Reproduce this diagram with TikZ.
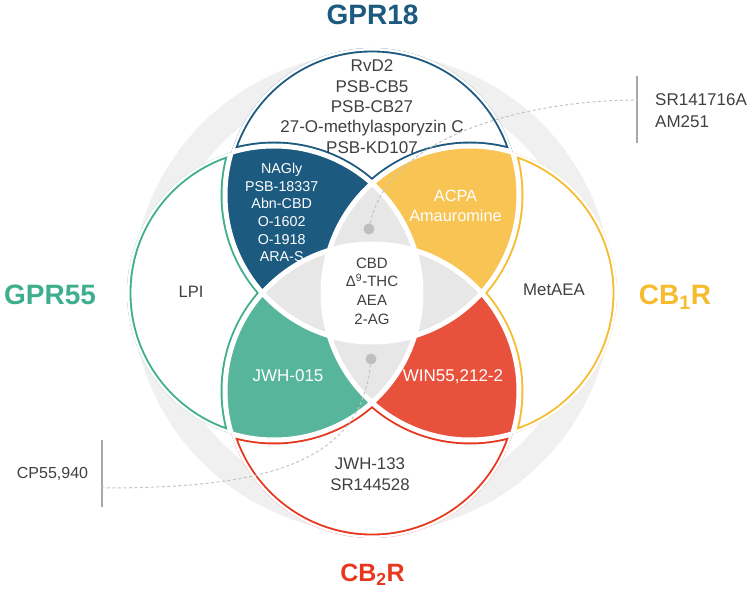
\documentclass[tikz,border=0pt]{standalone}
\usepackage{fontspec}
\setmainfont{Liberation Sans}
\definecolor{blueC}{HTML}{1C5A7F}
\definecolor{yellowF}{HTML}{F8C453}
\definecolor{yellowO}{HTML}{F6BB2E}
\definecolor{tealF}{HTML}{56B59B}
\definecolor{tealO}{HTML}{3FAE8D}
\definecolor{redF}{HTML}{E8523D}
\definecolor{redO}{HTML}{E6381F}
\definecolor{greyF}{HTML}{E7E7E7}
\definecolor{ringC}{HTML}{F0F0F0}
\definecolor{txtC}{HTML}{404040}
\definecolor{dotC}{HTML}{BEBEBE}
\definecolor{dashC}{HTML}{C4C4C4}
\definecolor{vlineC}{HTML}{A8A8A8}
\def\R{147pt}
\begin{document}
\begin{tikzpicture}[x=1pt,y=1pt,
  txt/.style={text=txtC, align=center, inner sep=0pt, text depth=0pt, font=\fontsize{17}{20.3}\selectfont},
  wtxt/.style={text=white, align=center, inner sep=0pt, text depth=0pt},
  lbl/.style={inner sep=0pt, text depth=0pt, font=\fontsize{28}{30}\selectfont\bfseries},
  dotn/.style={circle, fill=dotC, inner sep=0pt, minimum size=11pt},
  vline/.style={draw=vlineC, line width=2pt},
  dashln/.style={draw=dashC, line width=1pt, dash pattern=on 3pt off 2.5pt}]
\useasboundingbox (-372,-298) rectangle (378,293);

\coordinate (cT) at (0,98);
\coordinate (cL) at (-98,0);
\coordinate (cR) at (98,0);
\coordinate (cB) at (0,-98);

% background ring
\fill[ringC, even odd rule] (0,0) circle[radius=240pt] (0,0) circle[radius=212pt];

\begin{scope}
  \clip (cT) circle[radius=\R] (cL) circle[radius=\R] (cR) circle[radius=\R] (cB) circle[radius=\R];
  \fill[white] (-300,-300) rectangle (300,300);
  % two-circle lenses
  \begin{scope}\clip (cT) circle[radius=\R]; \clip (cL) circle[radius=\R]; \fill[blueC] (-300,-300) rectangle (300,300);\end{scope}
  \begin{scope}\clip (cT) circle[radius=\R]; \clip (cR) circle[radius=\R]; \fill[yellowF] (-300,-300) rectangle (300,300);\end{scope}
  \begin{scope}\clip (cL) circle[radius=\R]; \clip (cB) circle[radius=\R]; \fill[tealF] (-300,-300) rectangle (300,300);\end{scope}
  \begin{scope}\clip (cR) circle[radius=\R]; \clip (cB) circle[radius=\R]; \fill[redF] (-300,-300) rectangle (300,300);\end{scope}
  % three-circle regions
  \begin{scope}\clip (cT) circle[radius=\R]; \clip (cL) circle[radius=\R]; \clip (cR) circle[radius=\R]; \fill[greyF] (-300,-300) rectangle (300,300);\end{scope}
  \begin{scope}\clip (cT) circle[radius=\R]; \clip (cL) circle[radius=\R]; \clip (cB) circle[radius=\R]; \fill[greyF] (-300,-300) rectangle (300,300);\end{scope}
  \begin{scope}\clip (cT) circle[radius=\R]; \clip (cR) circle[radius=\R]; \clip (cB) circle[radius=\R]; \fill[greyF] (-300,-300) rectangle (300,300);\end{scope}
  \begin{scope}\clip (cL) circle[radius=\R]; \clip (cR) circle[radius=\R]; \clip (cB) circle[radius=\R]; \fill[greyF] (-300,-300) rectangle (300,300);\end{scope}
  % centre
  \begin{scope}\clip (cT) circle[radius=\R]; \clip (cL) circle[radius=\R]; \clip (cR) circle[radius=\R]; \clip (cB) circle[radius=\R]; \fill[white] (-300,-300) rectangle (300,300);\end{scope}
  % outlines of exclusive regions
  \begin{scope}[even odd rule]
    \clip (cT) circle[radius=\R];
    \clip (-400,-400) rectangle (400,400) (cL) circle[radius=\R];
    \clip (-400,-400) rectangle (400,400) (cR) circle[radius=\R];
    \draw[blueC, line width=8.8pt] (cT) circle[radius=\R] (cL) circle[radius=\R] (cR) circle[radius=\R];
  \end{scope}
  \begin{scope}[even odd rule]
    \clip (cL) circle[radius=\R];
    \clip (-400,-400) rectangle (400,400) (cT) circle[radius=\R];
    \clip (-400,-400) rectangle (400,400) (cB) circle[radius=\R];
    \draw[tealO, line width=8.8pt] (cL) circle[radius=\R] (cT) circle[radius=\R] (cB) circle[radius=\R];
  \end{scope}
  \begin{scope}[even odd rule]
    \clip (cR) circle[radius=\R];
    \clip (-400,-400) rectangle (400,400) (cT) circle[radius=\R];
    \clip (-400,-400) rectangle (400,400) (cB) circle[radius=\R];
    \draw[yellowO, line width=8.8pt] (cR) circle[radius=\R] (cT) circle[radius=\R] (cB) circle[radius=\R];
  \end{scope}
  \begin{scope}[even odd rule]
    \clip (cB) circle[radius=\R];
    \clip (-400,-400) rectangle (400,400) (cL) circle[radius=\R];
    \clip (-400,-400) rectangle (400,400) (cR) circle[radius=\R];
    \draw[redO, line width=8.8pt] (cB) circle[radius=\R] (cL) circle[radius=\R] (cR) circle[radius=\R];
  \end{scope}
  % white gaps
  \draw[white, line width=5pt] (cT) circle[radius=\R] (cL) circle[radius=\R] (cR) circle[radius=\R] (cB) circle[radius=\R];
\end{scope}

% texts in regions
\node[txt] (tTop) at (0,186.5) {RvD2\\PSB-CB5\\PSB-CB27\\27-O-methylasporyzin C\\PSB-KD107};
\node[wtxt, font=\fontsize{14.3}{17.7}\selectfont] (tTL) at (-90.3,80.5) {NAGly\\PSB-18337\\Abn-CBD\\O-1602\\O-1918\\ARA-S};
\node[wtxt, font=\fontsize{16.3}{20}\selectfont] (tTR) at (83.5,87) {ACPA\\Amauromine};
\node[txt, font=\fontsize{15}{18.7}\selectfont] (tC) at (0,2) {CBD\\Δ\textsuperscript{9}-THC\\AEA\\2-AG};
\node[txt, font=\fontsize{16.5}{20}\selectfont] (tL) at (-181,1) {LPI};
\node[txt, font=\fontsize{16.8}{20}\selectfont] (tR) at (182,3) {MetAEA};
\node[wtxt, font=\fontsize{17}{20}\selectfont] (tBL) at (-84,-83) {JWH-015};
\node[wtxt, font=\fontsize{17}{20}\selectfont] (tBR) at (81,-83) {WIN55,212-2};
\node[txt, font=\fontsize{16.8}{21}\selectfont] (tB) at (-2,-181.5) {JWH-133\\SR144528};
\node[txt, align=left, anchor=west, font=\fontsize{17}{22}\selectfont] (tSR) at (283,182) {SR141716A\\AM251};
\node[txt, font=\fontsize{16}{20}\selectfont] (tCP) at (-319.5,-180) {CP55,940};

% receptor labels
\node[lbl, text=blueC] (gpr18) at (0.5,278) {GPR18};
\node[lbl, text=tealO] (gpr55) at (-322,-2) {GPR55};
\node[lbl, text=yellowO] (cb1) at (303,-2) {CB\textsubscript{1}R};
\node[lbl, text=redO, font=\fontsize{25}{28}\selectfont\bfseries] (cb2) at (0.5,-280) {CB\textsubscript{2}R};

% callouts
\node[dotn] (dotU) at (-3,64) {};
\node[dotn] (dotD) at (-1,-66) {};
\coordinate (vU1) at (265,217);
\coordinate (vU2) at (265,150);
\coordinate (eU) at (265,193);
\coordinate (vD1) at (-270,-147);
\coordinate (vD2) at (-270,-214);
\coordinate (eD) at (-270,-195);
\draw[vline] (vU1) -- (vU2);
\draw[vline] (vD1) -- (vD2);
\draw[dashln] (dotU) .. controls (18,163) and (168,193) .. (eU);
\draw[dashln] (dotD) .. controls (-12,-177) and (-122,-195) .. (eD);
\end{tikzpicture}
\end{document}
